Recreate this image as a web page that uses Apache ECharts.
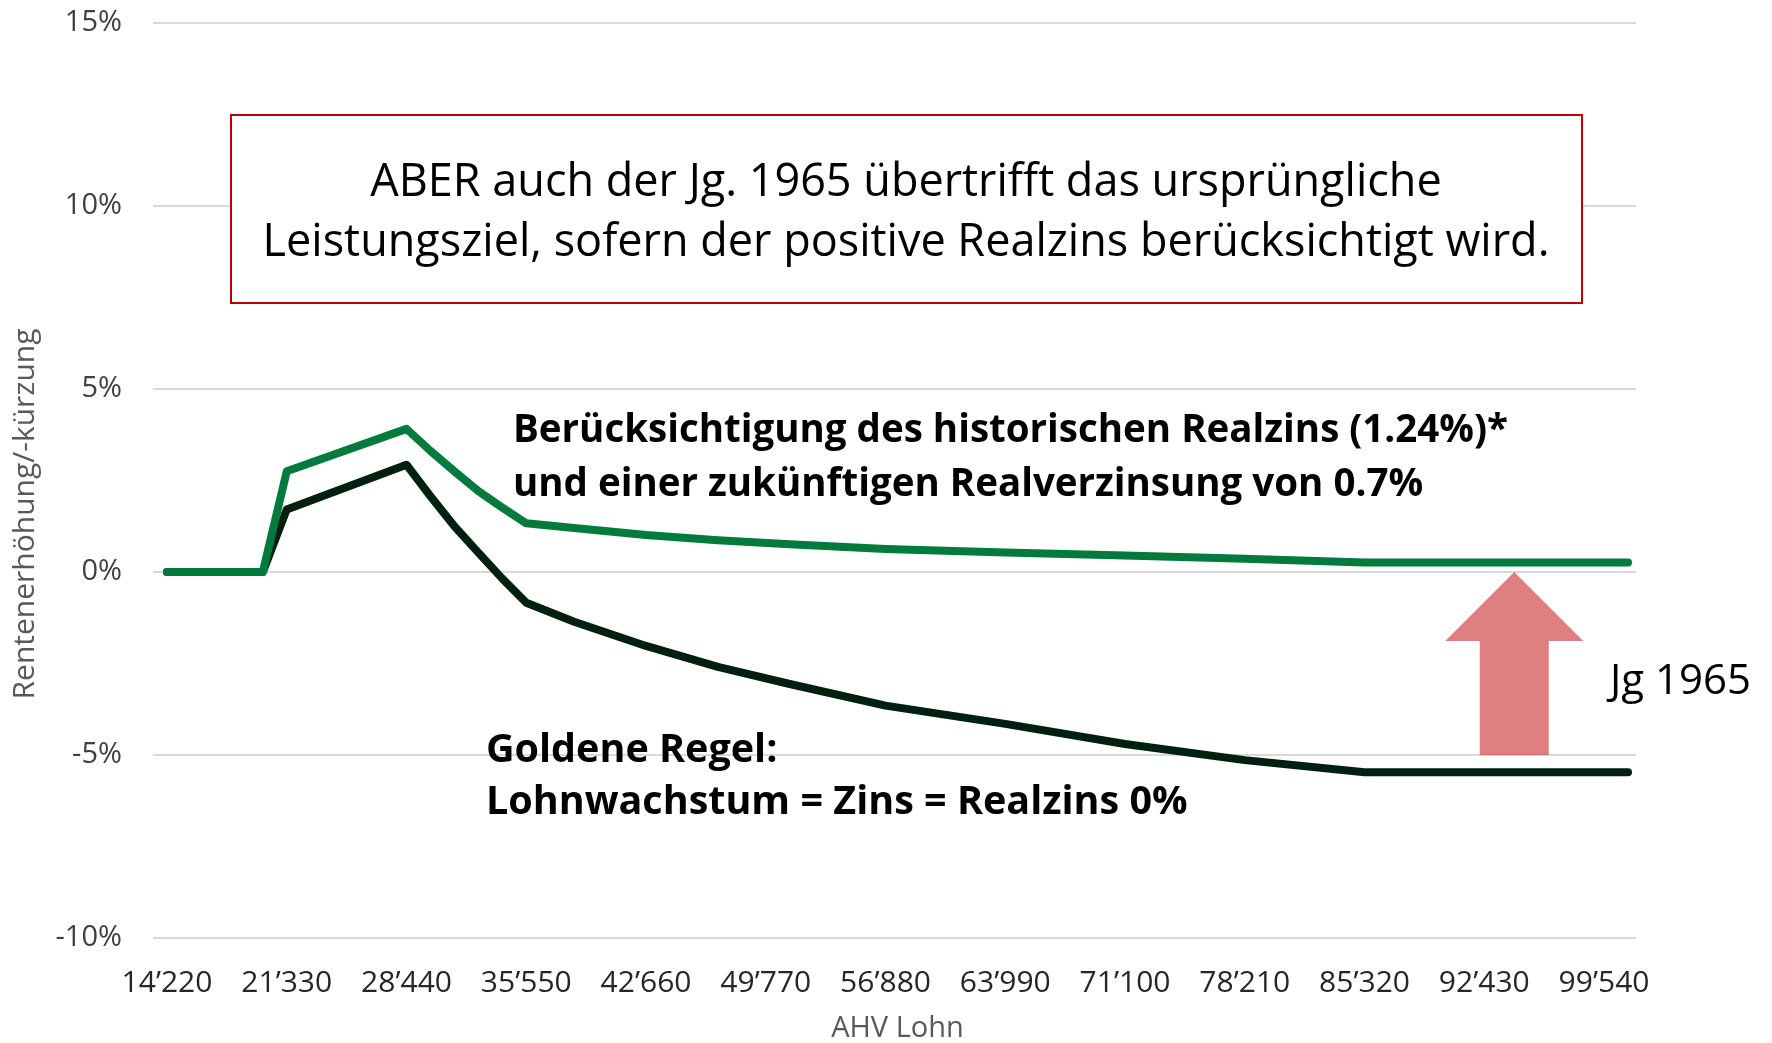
<!DOCTYPE html>
<html>
<head>
<meta charset="utf-8">
<script src="https://cdn.jsdelivr.net/npm/echarts@6/dist/echarts.min.js"></script>
<style>
  html, body { margin: 0; padding: 0; background: #fff; }
  #chart { width: 1772px; height: 1043px; }
</style>
</head>
<body>
<div id="chart"></div>
<script>
// AHV Lohn (x) und Rentenerhöhung/-kürzung in %
const ahvLohn = [14220, 19908, 21330, 28440, 29862, 31284, 32706, 34128, 35550, 38394,
                 42660, 46926, 51192, 56880, 63990, 71100, 78210, 85320, 100962];
// mit Realzins (historisch 1.24%, zukünftig 0.7%)
const mitRealzins = [0, 0, 2.75, 3.91, 3.31, 2.75, 2.21, 1.76, 1.33, 1.20,
                     1.01, 0.87, 0.76, 0.63, 0.53, 0.45, 0.36, 0.26, 0.26];
// Goldene Regel, Realzins 0%
const goldeneRegel = [0, 0, 1.71, 2.93, 2.07, 1.25, 0.53, -0.18, -0.84, -1.36,
                      -2.02, -2.59, -3.06, -3.65, -4.15, -4.70, -5.14, -5.47, -5.47];
const yTicks = [-10, -5, 0, 5, 10, 15];

const FONT = "'Open Sans', 'Noto Sans', sans-serif";

function pairs(xs, ys) {
    return xs.map((x, i) => [x, ys[i]]);
}
function fmtLohn(v) {
    return String(v).replace(/\B(?=(\d{3})+(?!\d))/g, '\u2019');
}

const chart = echarts.init(document.getElementById('chart'));

let option = {
    animation: false,
    backgroundColor: '#fff',
    textStyle: { fontFamily: FONT },
    grid: [
        // breites Gitter nur für die Hilfslinien
        { left: 153, right: 136, top: 23, bottom: 105, outerBoundsMode: 'none' },
        { left: 167, right: 144, top: 23, bottom: 105, outerBoundsMode: 'none' }
    ],
    xAxis: [
        { gridIndex: 0, type: 'value', show: false, min: 0, max: 1 },
        {
            gridIndex: 1, type: 'value',
            min: ahvLohn[0], max: ahvLohn[ahvLohn.length - 1], interval: 7110,
            axisLine: { show: false }, axisTick: { show: false }, splitLine: { show: false },
            axisLabel: {
                color: '#262626', fontSize: 30, fontFamily: FONT, margin: 30,
                showMaxLabel: false, formatter: fmtLohn
            },
            name: 'AHV Lohn', nameLocation: 'middle', nameGap: 76,
            nameTextStyle: { color: '#595959', fontSize: 29, fontFamily: FONT }
        }
    ],
    yAxis: [
        {
            gridIndex: 0, type: 'value',
            min: yTicks[0], max: yTicks[yTicks.length - 1], interval: 5,
            axisLine: { show: false }, axisTick: { show: false },
            axisLabel: { color: '#404040', fontSize: 29, fontFamily: FONT, margin: 31, formatter: v => v + '%' },
            splitLine: { lineStyle: { color: '#d9d9d9', width: 2 } }
        },
        {
            gridIndex: 1, type: 'value', show: false,
            min: yTicks[0], max: yTicks[yTicks.length - 1], interval: 5,
            splitLine: { show: false }
        }
    ],
    series: [
        {
            name: 'Goldene Regel', type: 'line', xAxisIndex: 1, yAxisIndex: 1,
            data: pairs(ahvLohn, goldeneRegel), showSymbol: false,
            lineStyle: { color: '#00200f', width: 8, cap: 'round', join: 'round' }
        },
        {
            name: 'Mit Realzins', type: 'line', xAxisIndex: 1, yAxisIndex: 1,
            data: pairs(ahvLohn, mitRealzins), showSymbol: false,
            lineStyle: { color: '#007a3d', width: 8, cap: 'round', join: 'round' }
        }
    ]
};
chart.setOption(option);

// Pfeil Jg 1965 von -5% bis 0%
const tip = chart.convertToPixel({ xAxisIndex: 1, yAxisIndex: 1 }, [94208, 0]);
const base = chart.convertToPixel({ xAxisIndex: 1, yAxisIndex: 1 }, [94208, -5]);
const headH = 69, headW = 69, shaftW = 34.5;

chart.setOption({
    graphic: [
        {
            type: 'rect', z: 10,
            shape: { x: 231, y: 115, width: 1351, height: 188 },
            style: { fill: '#fff', stroke: '#c00000', lineWidth: 2 }
        },
        {
            type: 'text', z: 11, x: 906, y: 213,
            style: {
                text: 'ABER auch der Jg. 1965 übertrifft das ursprüngliche\nLeistungsziel, sofern der positive Realzins berücksichtigt wird.',
                font: '45px ' + FONT, fill: '#000', align: 'center', verticalAlign: 'middle', lineHeight: 60
            }
        },
        {
            type: 'text', z: 11, x: 513, y: 458,
            style: {
                text: 'Berücksichtigung des historischen Realzins (1.24%)*\nund einer zukünftigen Realverzinsung von 0.7%',
                font: 'bold 38.5px ' + FONT, fill: '#000', align: 'left', verticalAlign: 'middle', lineHeight: 54
            }
        },
        {
            type: 'text', z: 11, x: 486, y: 777,
            style: {
                text: 'Goldene Regel:\nLohnwachstum = Zins = Realzins 0%',
                font: 'bold 39.5px ' + FONT, fill: '#000', align: 'left', verticalAlign: 'middle', lineHeight: 52
            }
        },
        {
            type: 'text', z: 11, x: 1610, y: 682,
            style: { text: 'Jg 1965', font: '42px ' + FONT, fill: '#000', align: 'left', verticalAlign: 'middle' }
        },
        {
            type: 'text', z: 11, x: 25, y: 514, rotation: Math.PI / 2,
            style: { text: 'Rentenerhöhung/-kürzung', font: '30px ' + FONT, fill: '#595959', align: 'center', verticalAlign: 'middle' }
        },
        {
            type: 'polygon', z: 5,
            shape: {
                points: [
                    [tip[0], tip[1]],
                    [tip[0] + headW, tip[1] + headH],
                    [tip[0] + shaftW, tip[1] + headH],
                    [tip[0] + shaftW, base[1]],
                    [tip[0] - shaftW, base[1]],
                    [tip[0] - shaftW, tip[1] + headH],
                    [tip[0] - headW, tip[1] + headH]
                ]
            },
            style: { fill: 'rgba(192,0,0,0.5)' }
        }
    ]
});
</script>
</body>
</html>
